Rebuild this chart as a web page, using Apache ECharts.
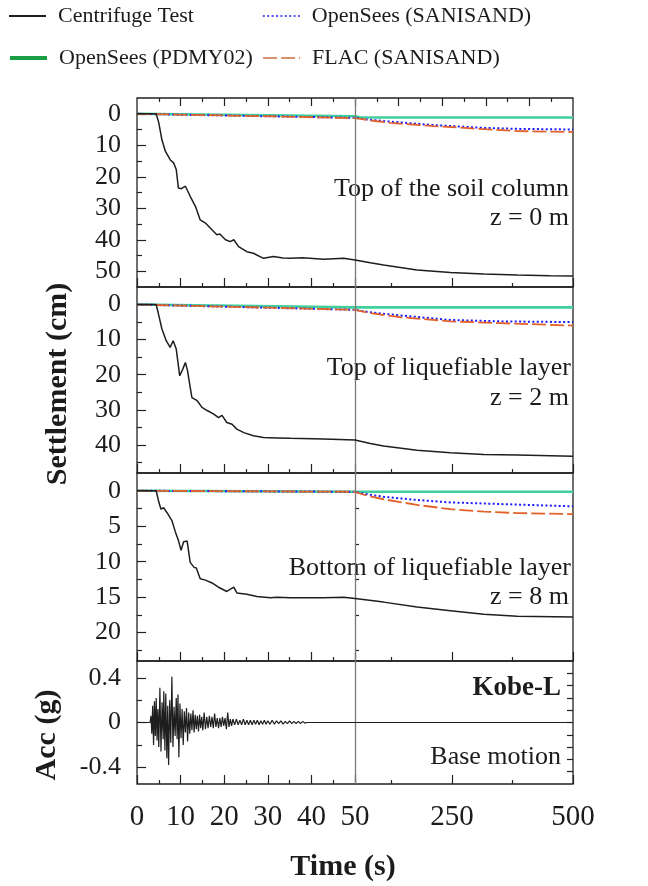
<!DOCTYPE html>
<html><head><meta charset="utf-8">
<script src="https://cdn.jsdelivr.net/npm/echarts@6/dist/echarts.min.js"></script>
<style>html,body{margin:0;padding:0;background:#fff}#chart{width:648px;height:886px}</style>
</head><body><div id="chart"></div>
<script>
// ================= DATA =================
const seriesNames = ['Centrifuge Test', 'OpenSees (SANISAND)', 'OpenSees (PDMY02)', 'FLAC (SANISAND)'];

// x axis (time, s) ticks and labels — broken axis: 0-50 s then 50-500 s
const xTickMajorT = [0, 10, 20, 30, 40, 50, 250, 500];
const xTickMinorT = [5, 15, 25, 35, 45, 125, 375];
const xLabelT = [0, 10, 20, 30, 40, 50, 250, 500];
// top axis of the first panel (uniform ticks in axis units)
const topTickMajorU = [10, 20, 30, 40, 50, 60, 70, 80, 90];
const topTickMinorU = [5, 15, 25, 35, 45, 55, 65, 75, 85, 95];

// y tick labels
const p1Labels = [0, 10, 20, 30, 40, 50];
const p1Minor = [5, 15, 25, 35, 45];
const p2Labels = [0, 10, 20, 30, 40];
const p2Minor = [5, 15, 25, 35, 45];
const p3Labels = [0, 5, 10, 15, 20];
const p3Minor = [2.5, 7.5, 12.5, 17.5, 22.5];
const p4Labels = [-0.4, 0, 0.4];
const p4Minor = [-0.2, 0.2];
const p4RightTicks = [-0.44, -0.33, -0.22, -0.11, 0, 0.11, 0.22, 0.33, 0.44];

// Panel 1: top of the soil column (z = 0 m), settlement (cm)
const cent1T = [0, 4.4, 5.0, 5.7, 6.5, 7.6, 8.4, 9.0, 9.5, 10.2, 11.1, 12.2, 13.4, 14.5, 15.7, 16.8, 18.3, 19.0, 20.3, 21.4, 22.2, 23.3, 25.2, 26.7, 29.0, 31.3, 33.5, 35.2, 38.0, 42.8, 47.4, 50, 81.5, 109, 178, 247, 316, 385, 453, 500];
const cent1V = [0, 0, 2.9, 8.2, 11.9, 14.6, 15.6, 17.7, 23.6, 23.8, 23.0, 26.2, 29.4, 33.7, 34.7, 36.3, 38.4, 38.2, 40.0, 40.6, 40.0, 42.2, 43.8, 44.3, 45.9, 45.3, 45.8, 45.9, 45.7, 46.2, 45.9, 46.4, 47.3, 48.0, 49.6, 50.4, 50.9, 51.2, 51.4, 51.5];
const pdmy1T = [0, 50, 60, 100, 500];
const pdmy1V = [0, 0.8, 1.1, 1.2, 1.2];
const sanis1T = [0, 10, 30, 50, 80, 123, 212, 316, 385, 500];
const sanis1V = [0, 0.3, 0.8, 1.3, 1.9, 2.5, 3.6, 4.5, 4.8, 5.0];
const flac1T = [0, 10, 30, 50, 80, 123, 212, 316, 385, 500];
const flac1V = [0, 0.3, 0.8, 1.4, 2.1, 2.9, 3.9, 4.9, 5.5, 5.8];

// Panel 2: top of liquefiable layer (z = 2 m)
const cent2T = [0, 4.4, 5.0, 5.7, 6.7, 7.6, 8.3, 9.0, 9.8, 10.5, 11.1, 11.6, 12.2, 12.6, 13.8, 14.9, 16.1, 17.6, 18.7, 19.5, 20.6, 21.8, 22.9, 24.5, 26.7, 29.0, 32.1, 35.2, 42.8, 50, 81.5, 109, 178, 247, 316, 385, 500];
const cent2V = [0, 0, 3.1, 6.9, 10.3, 12.2, 10.3, 12.7, 20.3, 18.4, 16.5, 18.9, 23.6, 26.5, 27.4, 29.3, 30.2, 31.2, 32.2, 31.6, 33.6, 34.1, 35.5, 36.5, 37.4, 37.9, 38.0, 38.1, 38.3, 38.6, 39.6, 40.3, 41.5, 42.2, 42.7, 42.9, 43.2];
const pdmy2T = [0, 50, 60, 500];
const pdmy2V = [0, 0.8, 0.8, 0.8];
const sanis2T = [0, 10, 30, 50, 80, 143, 247, 350, 500];
const sanis2V = [0, 0.3, 0.9, 1.5, 2.2, 3.1, 4.4, 4.8, 5.0];
const flac2T = [0, 10, 30, 50, 80, 143, 247, 350, 500];
const flac2V = [0, 0.3, 0.9, 1.5, 2.4, 3.6, 4.8, 5.3, 6.0];

// Panel 3: bottom of liquefiable layer (z = 8 m)
const cent3T = [0, 4.4, 5.0, 5.5, 6.1, 7.0, 8.0, 8.8, 9.5, 10.1, 10.7, 11.5, 12.2, 13.1, 13.6, 14.5, 15.7, 17.2, 18.7, 20.6, 22.2, 22.9, 25.2, 27.5, 30.6, 32.1, 35.2, 42.8, 47.4, 50, 109, 178, 247, 316, 385, 500];
const cent3V = [0, 0, 1.6, 2.6, 2.4, 3.2, 4.2, 5.8, 7.0, 8.4, 7.2, 7.1, 10.1, 10.8, 10.9, 12.4, 12.6, 13.0, 13.6, 14.2, 13.6, 14.4, 14.6, 14.9, 15.1, 15.0, 15.1, 15.1, 15.0, 15.2, 15.7, 16.4, 16.9, 17.4, 17.7, 17.8];
const pdmy3T = [0, 50, 500];
const pdmy3V = [0, 0.15, 0.15];
const sanis3T = [0, 50, 70, 109, 178, 247, 316, 385, 500];
const sanis3V = [0, 0.15, 0.45, 0.85, 1.3, 1.65, 1.8, 1.95, 2.2];
const flac3T = [0, 50, 70, 109, 178, 247, 316, 385, 500];
const flac3V = [0, 0.15, 0.6, 1.2, 2.0, 2.6, 2.95, 3.15, 3.3];

// Panel 4: base motion acceleration (g), Kobe-L
const accT = [0, 3.0, 3.2, 3.4, 3.6, 3.8, 4.0, 4.2, 4.4, 4.6, 4.8, 5.0, 5.25, 5.5, 5.75, 6.0, 6.15, 6.4, 6.6, 6.85, 7.05, 7.25, 7.5, 7.75, 8.0, 8.25, 8.5, 8.75, 9.0, 9.2, 9.4, 9.6, 9.85, 10.1, 10.35, 10.6, 10.85, 11.1, 11.35, 11.6, 11.85, 12.1, 12.35, 12.6, 12.85, 13.1, 13.35, 13.6, 13.85, 14.1, 14.35, 14.6, 14.85, 15.1, 15.4, 15.7, 16.0, 16.3, 16.6, 16.9, 17.2, 17.5, 17.8, 18.1, 18.4, 18.7, 19.0, 19.3, 19.6, 19.9, 20.2, 20.5, 20.8, 21.1, 21.4, 21.7, 22.0, 22.4, 22.8, 23.2, 23.6, 24.0, 24.4, 24.8, 25.2, 25.6, 26.0, 26.4, 26.8, 27.2, 27.6, 28.0, 28.4, 28.8, 29.2, 29.6, 30.0, 30.5, 31.0, 31.5, 32.0, 32.5, 33.0, 33.5, 34.0, 34.5, 35.0, 35.5, 36.0, 36.5, 37.0, 37.5, 38.0, 38.5, 39.0, 500];
const accV = [0, 0, 0.06, -0.10, 0.15, -0.20, 0.19, -0.12, 0.22, -0.16, 0.12, -0.22, 0.31, -0.26, 0.18, -0.15, 0.28, -0.25, 0.26, -0.32, 0.15, -0.38, 0.20, -0.18, 0.41, -0.22, 0.14, -0.12, 0.22, -0.15, 0.25, -0.31, 0.17, -0.14, 0.12, -0.20, 0.10, -0.09, 0.13, -0.17, 0.09, -0.10, 0.08, -0.07, 0.11, -0.09, 0.07, -0.06, 0.06, -0.08, 0.07, -0.05, 0.05, -0.07, 0.09, -0.06, 0.05, -0.05, 0.06, -0.04, 0.05, -0.05, 0.08, -0.04, 0.04, -0.05, 0.04, -0.04, 0.05, -0.03, 0.04, -0.06, 0.09, -0.04, 0.03, -0.03, 0.03, -0.02, 0.03, -0.02, 0.02, -0.02, 0.03, -0.02, 0.02, -0.02, 0.02, -0.02, 0.02, -0.015, 0.02, -0.02, 0.015, -0.015, 0.02, -0.015, 0.015, -0.015, 0.02, -0.015, 0.015, -0.01, 0.015, -0.015, 0.01, -0.01, 0.015, -0.01, 0.01, -0.01, 0.01, -0.01, 0.01, -0.005, 0, 0];

// Panel annotations
const panelTitles = ['Top of the soil column', 'Top of liquefiable layer', 'Bottom of liquefiable layer'];
const panelDepths = ['z = 0 m', 'z = 2 m', 'z = 8 m'];
const motionName = 'Kobe-L';
const motionLabel = 'Base motion';

// ================= CHART =================
const FONT = '"Liberation Serif", "Times New Roman", serif';
const TXT = '#1c1c1c';
const TICK = { color: '#222', width: 1.2 };
function toU(t) { return t <= 50 ? t : 50 + (t - 50) / 9; }
function fromU(u) { return u <= 50 ? u : 50 + (u - 50) * 9; }

const layout = [
  { top: 98, height: 189, min: -5, max: 55, inverse: true, labels: p1Labels, minor: p1Minor },
  { top: 287, height: 186, min: -5, max: 48, inverse: true, labels: p2Labels, minor: p2Minor },
  { top: 473, height: 188, min: -2.5, max: 24, inverse: true, labels: p3Labels, minor: p3Minor },
  { top: 661, height: 123, min: -0.55, max: 0.55, inverse: false, labels: p4Labels, minor: p4Minor }
];

const grids = [], xAxes = [], yAxes = [], series = [];
const mainX = [], mainY = [];

function xAxisDef(g, pos, ticks, len, labelOpt, extra) {
  return Object.assign({
    type: 'value', gridIndex: g, position: pos, min: 0, max: 100,
    axisLine: { show: false, onZero: false },
    splitLine: { show: false },
    axisTick: { show: true, inside: true, length: len, customValues: ticks, lineStyle: TICK },
    axisLabel: labelOpt || { show: false }
  }, extra || {});
}
function yAxisDef(g, L, pos, ticks, len, labelOpt, extra) {
  return Object.assign({
    type: 'value', gridIndex: g, position: pos, min: L.min, max: L.max, inverse: L.inverse,
    axisLine: { show: false, onZero: false },
    splitLine: { show: false },
    axisTick: { show: true, inside: true, length: len, customValues: ticks, lineStyle: TICK },
    axisLabel: labelOpt || { show: false }
  }, extra || {});
}

layout.forEach((L, g) => {
  grids.push({ left: 137, right: 75, top: L.top, height: L.height, show: true,
    borderColor: '#222', borderWidth: 1.3, backgroundColor: 'transparent',
    containLabel: false, outerBoundsMode: 'none' });
  const bottomLabel = g === 3 ? {
    show: true, customValues: xLabelT.map(toU), showMinLabel: true, showMaxLabel: true,
    formatter: u => String(Math.round(fromU(u))),
    fontFamily: FONT, fontSize: 29, color: TXT, margin: 19
  } : null;
  mainX.push(xAxes.length);
  xAxes.push(xAxisDef(g, 'bottom', xTickMajorT.map(toU), 9, bottomLabel));
  xAxes.push(xAxisDef(g, 'bottom', xTickMinorT.map(toU), 4));
  if (g === 0) {
    xAxes.push(xAxisDef(g, 'top', topTickMajorU, 8));
    xAxes.push(xAxisDef(g, 'top', topTickMinorU, 4));
  }
  mainY.push(yAxes.length);
  yAxes.push(yAxisDef(g, L, 'left', L.labels, 9, {
    show: true, customValues: L.labels, showMinLabel: true, showMaxLabel: true,
    fontFamily: FONT, fontSize: 26, color: TXT, margin: 16,
    formatter: v => String(v)
  }));
  yAxes.push(yAxisDef(g, L, 'left', L.minor, 5));
  if (g === 3) {
    yAxes.push(yAxisDef(g, L, 'right', p4RightTicks, 6));
  }
});

// helper grid over the 0-50 s part of panel 3: its right edge is the 50 s break line, carrying small ticks
{
  const L = layout[2];
  const gi = grids.length;
  grids.push({ left: 137, width: 218, top: L.top, height: L.height, show: false,
    containLabel: false, outerBoundsMode: 'none' });
  xAxes.push(xAxisDef(gi, 'bottom', [], 0, null, { show: false }));
  yAxes.push(yAxisDef(gi, L, 'right', L.minor, 4, null, {
    axisTick: { show: true, inside: false, length: 4, customValues: L.minor, lineStyle: TICK } }));
}

const styles = {
  'Centrifuge Test': { color: '#1e1e1e', width: 1.5, type: 'solid' },
  'OpenSees (PDMY02)': { color: '#3fcf9c', width: 2.6, type: 'solid' },
  'OpenSees (SANISAND)': { color: '#1a1aff', width: 2, type: [2, 2.4] },
  'FLAC (SANISAND)': { color: '#e2622b', width: 1.8, type: [14, 4] }
};

function addLine(name, T, V, g, z, extra) {
  series.push(Object.assign({
    type: 'line', name, xAxisIndex: mainX[g], yAxisIndex: mainY[g],
    data: T.map((t, i) => [toU(t), V[i]]),
    symbol: 'none', showSymbol: false, smooth: false, animation: false,
    color: styles[name] ? styles[name].color : '#1e1e1e',
    lineStyle: styles[name] || { color: '#1e1e1e', width: 1.2 },
    z
  }, extra || {}));
}
const breakLine = {
  markLine: { silent: true, symbol: 'none', label: { show: false }, animation: false,
    lineStyle: { color: '#777', width: 1.3, type: 'solid' }, data: [{ xAxis: toU(50) }] }
};

const panels = [
  [cent1T, cent1V, pdmy1T, pdmy1V, sanis1T, sanis1V, flac1T, flac1V],
  [cent2T, cent2V, pdmy2T, pdmy2V, sanis2T, sanis2V, flac2T, flac2V],
  [cent3T, cent3V, pdmy3T, pdmy3V, sanis3T, sanis3V, flac3T, flac3V]
];
panels.forEach((p, g) => {
  addLine('OpenSees (PDMY02)', p[2], p[3], g, 2);
  addLine('OpenSees (SANISAND)', p[4], p[5], g, 3);
  addLine('FLAC (SANISAND)', p[6], p[7], g, 4);
  addLine('Centrifuge Test', p[0], p[1], g, 5, breakLine);
});
addLine('Base motion (Kobe-L)', accT, accV, 3, 5, Object.assign({ lineStyle: { color: '#1e1e1e', width: 1.2 } }, breakLine));

function legendAt(name, left, top, lineStyle) {
  const item = { name, itemStyle: { opacity: 0, borderWidth: 0 } };
  if (lineStyle) item.lineStyle = lineStyle;
  return {
    show: true, left, top, padding: 0, itemWidth: 37, itemHeight: 14,
    data: [item],
    textStyle: { fontFamily: FONT, fontSize: 22, color: TXT, padding: [0, 0, 0, 7] },
    selectedMode: false
  };
}

const graphics = [];
function gText(text, x, y, opt) {
  graphics.push(Object.assign({
    type: 'text', x, y, silent: true,
    style: Object.assign({ text, fill: TXT, font: '26px ' + FONT, align: 'right', verticalAlign: 'middle' }, opt && opt.style || {})
  }, opt && opt.el || {}));
}
gText(panelTitles[0], 569, 189);
gText(panelDepths[0], 569, 218);
gText(panelTitles[1], 571, 368);
gText(panelDepths[1], 569, 398);
gText(panelTitles[2], 571, 568);
gText(panelDepths[2], 569, 597);
gText(motionName, 561, 688, { style: { font: 'bold 27px ' + FONT } });
gText(motionLabel, 561, 757);
gText('Time (s)', 343, 867, { style: { font: 'bold 30px ' + FONT, align: 'center' } });
gText('Settlement (cm)', 58, 384, { style: { font: 'bold 30px ' + FONT, align: 'center' }, el: { rotation: Math.PI / 2 } });
gText('Acc (g)', 47, 735, { style: { font: 'bold 30px ' + FONT, align: 'center' }, el: { rotation: Math.PI / 2 } });

const chart = echarts.init(document.getElementById('chart'), null, { renderer: 'canvas' });
chart.setOption({
  animation: false,
  backgroundColor: '#fff',
  legend: [
    legendAt('Centrifuge Test', 8, 5),
    legendAt('OpenSees (SANISAND)', 262, 5, { color: '#1a1aff', width: 1.6 }),
    legendAt('OpenSees (PDMY02)', 8, 47, { color: '#1a9e45', width: 4 }),
    legendAt('FLAC (SANISAND)', 262, 47, { color: '#d8916f', width: 2.2 })
  ],
  grid: grids,
  xAxis: xAxes,
  yAxis: yAxes,
  series,
  graphic: graphics
});
</script></body></html>
